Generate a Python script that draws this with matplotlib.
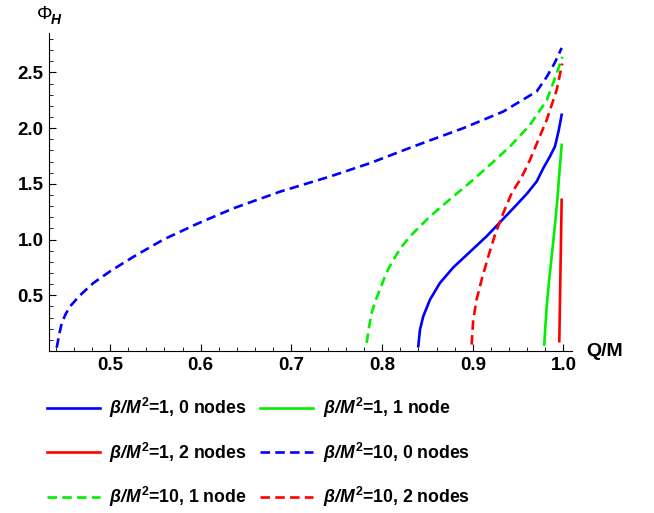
import matplotlib
matplotlib.use("Agg")
import matplotlib.pyplot as plt
import numpy as np

plt.rcParams['font.family'] = ['Liberation Sans', 'DejaVu Sans']
plt.rcParams['mathtext.fontset'] = 'custom'
plt.rcParams['mathtext.it'] = 'Liberation Sans:italic:bold'
plt.rcParams['mathtext.rm'] = 'Liberation Sans:bold'
plt.rcParams['mathtext.bf'] = 'Liberation Sans:bold'
# the slash only renders slanted when taken from the sf font
plt.rcParams['mathtext.sf'] = 'Liberation Sans:italic:bold'

# beta/M^2 = 1 (solid)
q_b1_n0 = [0.8399, 0.8418, 0.8454, 0.8528, 0.8638, 0.8785, 0.8969, 0.9153, 0.9282, 0.9484,
           0.9600, 0.9705, 0.9777, 0.9850, 0.9906, 0.9945, 0.9980]
p_b1_n0 = [0.043, 0.193, 0.312, 0.461, 0.611, 0.750, 0.890, 1.030, 1.140, 1.313,
           1.415, 1.522, 1.640, 1.745, 1.835, 1.97, 2.12]
q_b1_n1 = [0.9788, 0.9800, 0.9815, 0.9840, 0.9870, 0.9905, 0.9932, 0.9955, 0.9980]
p_b1_n1 = [0.058, 0.22, 0.40, 0.62, 0.85, 1.12, 1.357, 1.60, 1.85]
q_b1_n2 = [0.9954, 0.9967, 0.9980]
p_b1_n2 = [0.088, 0.72, 1.357]

# beta/M^2 = 10 (dashed)
q_b10_n0 = [0.4412, 0.4440, 0.4467, 0.4510, 0.4559, 0.4669, 0.4816, 0.5000, 0.5257, 0.5588, 0.5956,
            0.6359, 0.6874, 0.7426, 0.7867, 0.8344, 0.8895, 0.9336, 0.9705, 0.9815, 0.9900, 0.9980]
p_b10_n0 = [0.03, 0.15, 0.25, 0.33, 0.40, 0.50, 0.61, 0.715, 0.845, 1.00, 1.14,
            1.28, 1.43, 1.566, 1.686, 1.835, 2.00, 2.149, 2.33, 2.46, 2.58, 2.72]
q_b10_n1 = [0.7830, 0.7855, 0.7885, 0.7930, 0.7977, 0.8040, 0.8124, 0.8210, 0.8308, 0.8528, 0.8785,
            0.9005, 0.9189, 0.9410, 0.9631, 0.9815, 0.9925, 0.9987]
p_b10_n1 = [0.073, 0.21, 0.342, 0.46, 0.551, 0.69, 0.820, 0.93, 1.029, 1.208, 1.387,
            1.537, 1.671, 1.835, 2.03, 2.25, 2.49, 2.64]
q_b10_n2 = [0.8987, 0.9005, 0.9042, 0.9098, 0.9171, 0.9245, 0.9336, 0.9429, 0.9539, 0.9631,
            0.9720, 0.9815, 0.9925, 0.9987]
p_b10_n2 = [0.058, 0.282, 0.461, 0.641, 0.849, 1.044, 1.238, 1.417, 1.560, 1.716,
            1.89, 2.074, 2.343, 2.58]

labels = [r"$\beta\mathsf{/}M^2$=1, 0 nodes", r"$\beta\mathsf{/}M^2$=1, 1 node",
          r"$\beta\mathsf{/}M^2$=1, 2 nodes", r"$\beta\mathsf{/}M^2$=10, 0 nodes",
          r"$\beta\mathsf{/}M^2$=10, 1 node", r"$\beta\mathsf{/}M^2$=10, 2 nodes"]
colors = ["#0000ff", "#00f000", "#ff0000"]

fig = plt.figure(figsize=(6.54, 5.13), dpi=100)
ax = fig.add_axes([49 / 654, 1 - 351 / 513, 523 / 654, 318 / 513])

lw = 1.9
dash = (3.6, 2.0)
lines = []
series = [(q_b1_n0, p_b1_n0), (q_b1_n1, p_b1_n1), (q_b1_n2, p_b1_n2),
          (q_b10_n0, p_b10_n0), (q_b10_n1, p_b10_n1), (q_b10_n2, p_b10_n2)]
for i, (q, p) in enumerate(series):
    l, = ax.plot(q, p, color=colors[i % 3], lw=lw, label=labels[i], solid_joinstyle='round')
    if i >= 3:
        l.set_dashes(dash)
    lines.append(l)

ax.set_xlim(0.4327, 1.0094)
ax.set_ylim(0, 2.854)
ax.spines['top'].set_visible(False)
ax.spines['right'].set_visible(False)
ax.set_xticks([0.5, 0.6, 0.7, 0.8, 0.9, 1.0])
ax.set_xticks(np.arange(0.44, 1.009, 0.02), minor=True)
ax.set_yticks([0.5, 1.0, 1.5, 2.0, 2.5])
ax.set_yticks(np.arange(0.1, 2.85, 0.1), minor=True)
ax.tick_params(which='major', direction='in', length=5, labelsize=13.5, pad=4)
ax.tick_params(which='minor', direction='in', length=3)
for t in ax.get_xticklabels() + ax.get_yticklabels():
    t.set_fontweight('bold')

fig.text(37 / 654, 1 - 15 / 513, "\u03a6", fontsize=14, ha='left', va='center')
fig.text(51 / 654, 1 - 20 / 513, "H", fontsize=10, fontweight='bold', style='italic',
         ha='left', va='center')
fig.text(586 / 654, 1 - 351 / 513, "Q/M", fontsize=14, fontweight='bold', ha='left', va='center')

# legend is filled row by row in the reference
order = [0, 2, 4, 1, 3, 5]
leg = fig.legend([lines[i] for i in order], [labels[i] for i in order], ncol=2,
                 loc='upper left', bbox_to_anchor=(46.7 / 654, 1 - 396 / 513),
                 borderpad=0, borderaxespad=0,
                 frameon=False, fontsize=12.7, handlelength=3.0, handletextpad=0.55,
                 columnspacing=0.75, labelspacing=1.16)
for t in leg.get_texts():
    t.set_fontweight('bold')

fig.savefig("out.png", dpi=100)
